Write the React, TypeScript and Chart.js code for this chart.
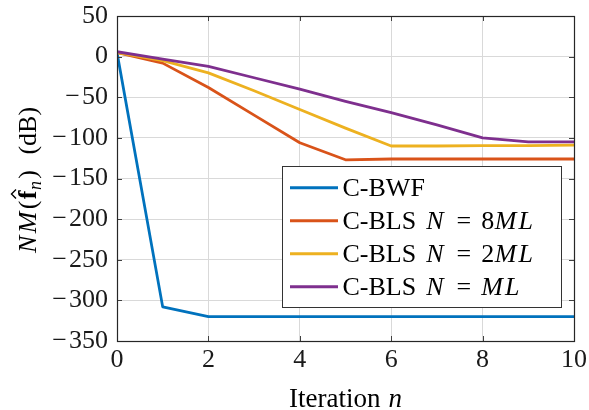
import React, { useEffect, useRef } from 'react';
import { Chart, registerables } from 'chart.js';

Chart.register(...registerables);

const iterations = [0, 1, 2, 3, 4, 5, 6, 7, 8, 9, 10];
const cBwf = [5, -308, -320, -320, -320, -320, -320, -320, -320, -320, -320];
const cBls8 = [5, -8, -38, -72, -106, -127, -126, -126, -126, -126, -126];
const cBls2 = [5, -5, -20, -42, -65, -88, -110, -110, -109.5, -109.5, -109];
const cBls1 = [6, -3, -12, -26, -40, -55, -69, -84, -100, -105, -105];

const seriesNames = ['C-BWF', 'C-BLS', 'C-BLS', 'C-BLS'];
const seriesMath = ['', '8', '2', ''];
const seriesColors = ['#0072BD', '#D95319', '#EDB120', '#7E2F8E'];
const xTicks = [0, 2, 4, 6, 8, 10];
const yTicks = [50, 0, -50, -100, -150, -200, -250, -300, -350];

const SERIF = '"Liberation Serif", "Times New Roman", serif';
const EM = 26;
const reg = (s: number) => `${s}px ${SERIF}`;
const ital = (s: number) => `italic ${s}px ${SERIF}`;
const bold = (s: number) => `bold ${s}px ${SERIF}`;

type Part = { t: string; font: string; adv?: number; dy?: number; dx?: number; center?: boolean };

function partsWidth(ctx: CanvasRenderingContext2D, parts: Part[]) {
  let w = 0;
  for (const p of parts) {
    ctx.font = p.font;
    w += p.adv ?? ctx.measureText(p.t).width;
  }
  return w;
}

function drawParts(ctx: CanvasRenderingContext2D, parts: Part[], x: number, y: number) {
  let cx = x;
  const starts: number[] = [];
  for (const p of parts) {
    ctx.font = p.font;
    starts.push(cx);
    const mw = ctx.measureText(p.t).width;
    const adv = p.adv ?? mw;
    const off = p.center ? (adv - mw) / 2 : p.dx || 0;
    ctx.fillText(p.t, cx + off, y + (p.dy || 0));
    cx += adv;
  }
  return starts;
}

function mathLabel(digit: string): Part[] {
  const parts: Part[] = [
    { t: 'N', font: ital(EM), adv: 0.78 * EM },
    { t: '=', font: reg(EM), adv: 0.778 * EM + 2 * 0.278 * EM, center: true },
  ];
  if (digit) parts.push({ t: digit, font: reg(EM), adv: 0.52 * EM });
  parts.push({ t: 'M', font: ital(EM), adv: 0.92 * EM });
  parts.push({ t: 'L', font: ital(EM), adv: 0.681 * EM });
  return parts;
}

const decor = {
  id: 'decor',
  afterDraw(chart: any) {
    const { ctx, chartArea } = chart;
    const { left, right, top, bottom } = chartArea;
    const xs = chart.scales.x;
    const ys = chart.scales.y;
    ctx.save();
    // inner tick marks
    ctx.strokeStyle = '#404040';
    ctx.lineWidth = 1;
    ctx.beginPath();
    for (const v of xTicks) {
      const px = Math.round(xs.getPixelForValue(v)) + 0.5;
      ctx.moveTo(px, bottom);
      ctx.lineTo(px, bottom - 5);
      ctx.moveTo(px, top);
      ctx.lineTo(px, top + 5);
    }
    for (const v of yTicks) {
      const py = Math.round(ys.getPixelForValue(v)) + 0.5;
      ctx.moveTo(left, py);
      ctx.lineTo(left + 5, py);
      ctx.moveTo(right, py);
      ctx.lineTo(right - 5, py);
    }
    ctx.stroke();
    // box
    ctx.strokeStyle = '#262626';
    ctx.lineWidth = 1.2;
    ctx.strokeRect(Math.round(left) + 0.5, Math.round(top) + 0.5, Math.round(right - left), Math.round(bottom - top));

    // legend
    const lx = 282, ly = 166, lw = 279, lh = 141;
    ctx.fillStyle = '#ffffff';
    ctx.fillRect(lx, ly, lw, lh);
    ctx.strokeStyle = '#333333';
    ctx.lineWidth = 1;
    ctx.strokeRect(lx + 0.5, ly + 0.5, lw, lh);
    ctx.textBaseline = 'alphabetic';
    ctx.textAlign = 'left';
    for (let i = 0; i < seriesNames.length; i++) {
      const cy = 187.7 + i * 33;
      ctx.strokeStyle = seriesColors[i];
      ctx.lineWidth = 3;
      ctx.beginPath();
      ctx.moveTo(290, cy);
      ctx.lineTo(338, cy);
      ctx.stroke();
      ctx.fillStyle = '#000000';
      const parts: Part[] = [{ t: seriesNames[i], font: reg(EM) }];
      if (i > 0) {
        parts.push({ t: ' ', font: reg(EM), adv: 10 });
        parts.push(...mathLabel(seriesMath[i]));
      }
      drawParts(ctx, parts, 342.5, cy + 8.5);
    }

    // x title
    ctx.fillStyle = '#000000';
    const xt: Part[] = [
      { t: 'Iteration', font: reg(27) },
      { t: ' ', font: reg(27), adv: 8 },
      { t: 'n', font: ital(27) },
    ];
    const xw = partsWidth(ctx, xt);
    drawParts(ctx, xt, (left + right) / 2 - xw / 2, 407);

    // y title (rotated)
    const yt: Part[] = [
      { t: 'N', font: ital(EM), adv: 0.76 * EM },
      { t: 'M', font: ital(EM), adv: 0.92 * EM },
      { t: '(', font: reg(EM), adv: 0.389 * EM },
      { t: 'f', font: bold(EM), adv: 0.36 * EM },
      { t: 'n', font: ital(18), adv: 0.62 * 18, dy: 5 },
      { t: ')', font: reg(EM), adv: 0.389 * EM },
      { t: ' ', font: reg(EM), adv: 14 },
      { t: '(dB)', font: reg(EM) },
    ];
    ctx.save();
    ctx.translate(36, 180);
    ctx.rotate(-Math.PI / 2);
    const yw = partsWidth(ctx, yt);
    const starts = drawParts(ctx, yt, -yw / 2, 0);
    // hat over f
    const fx = starts[3] + 0.18 * EM + 0.5;
    ctx.strokeStyle = '#000000';
    ctx.lineWidth = 1.4;
    ctx.beginPath();
    ctx.moveTo(fx - 4.5, -20);
    ctx.lineTo(fx, -24.5);
    ctx.lineTo(fx + 4.5, -20);
    ctx.stroke();
    ctx.restore();

    ctx.restore();
  },
};

export default function App() {
  const ref = useRef<HTMLCanvasElement | null>(null);
  useEffect(() => {
    if (!ref.current) return;
    const mk = (vals: number[]) => iterations.map((x, i) => ({ x, y: vals[i] }));
    const all = [cBwf, cBls8, cBls2, cBls1];
    const chart = new Chart(ref.current, {
      type: 'line',
      data: {
        datasets: all.map((vals, i) => ({
          label: seriesNames[i] + (i > 0 ? ' N=' + seriesMath[i] + 'ML' : ''),
          data: mk(vals),
          borderColor: seriesColors[i],
          backgroundColor: seriesColors[i],
          borderWidth: 2.8,
          pointRadius: 0,
          tension: 0,
          fill: false,
          order: 3 - i,
          borderJoinStyle: 'round' as const,
        })),
      },
      options: {
        responsive: false,
        animation: false,
        devicePixelRatio: 1,
        layout: { padding: { top: 16, right: 15, left: 0, bottom: 0 } },
        plugins: { legend: { display: false }, tooltip: { enabled: false } },
        scales: {
          x: {
            type: 'linear',
            min: 0,
            max: 10,
            afterBuildTicks: (s: any) => { s.ticks = xTicks.map((v) => ({ value: v })); },
            ticks: { font: { family: SERIF, size: 26 }, color: '#1a1a1a', padding: 4, maxRotation: 0 },
            grid: { color: '#d9d9d9', lineWidth: 1, drawTicks: false },
            border: { color: '#262626', width: 1 },
            afterFit: (s: any) => { s.height = 69; s.paddingLeft = 0; s.paddingRight = 0; },
          },
          y: {
            type: 'linear',
            min: -350,
            max: 50,
            afterBuildTicks: (s: any) => { s.ticks = yTicks.map((v) => ({ value: v })); },
            ticks: {
              font: { family: SERIF, size: 26 },
              color: '#1a1a1a',
              padding: 9,
              callback: (v: any) => (Number(v) < 0 ? '\u2212\u200A' + Math.abs(Number(v)) : String(v)),
            },
            grid: { color: '#d9d9d9', lineWidth: 1, drawTicks: false },
            border: { color: '#262626', width: 1 },
            afterFit: (s: any) => { s.width = 117; s.paddingTop = 0; s.paddingBottom = 0; },
          },
        },
      },
      plugins: [decor],
    } as any);
    return () => chart.destroy();
  }, []);
  return (
    <div style={{ position: 'fixed', left: 0, top: 0, width: 589, height: 410, background: '#fff' }}>
      <canvas ref={ref} width={589} height={410} style={{ width: 589, height: 410, display: 'block' }} />
    </div>
  );
}
